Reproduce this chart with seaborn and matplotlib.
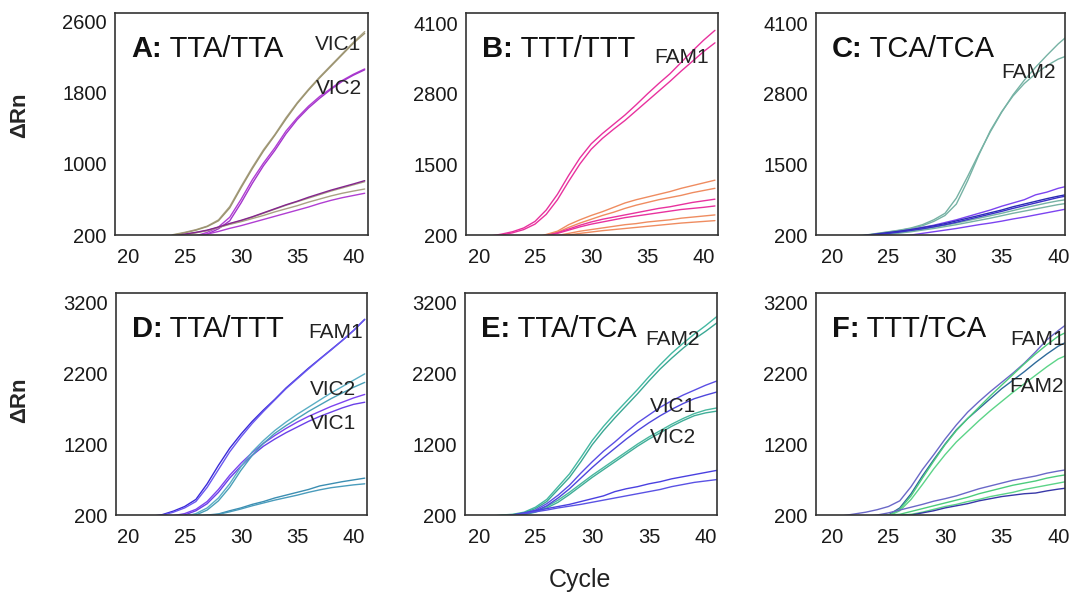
import seaborn as sns
import pandas as pd
import numpy as np
import matplotlib.pyplot as plt

sns.set_style('white')
plt.rcParams['font.family'] = ['Liberation Sans', 'DejaVu Sans']

cycles = list(range(20, 42))

# A: TTA/TTA
a_vic1_a = [100,100,100,150,205,230,260,300,370,520,745,960,1160,1330,1520,1690,1840,1980,2110,2240,2370,2490]
a_vic1_b = [100,100,100,140,200,225,255,295,360,505,730,945,1145,1320,1505,1680,1830,1970,2100,2230,2360,2470]
a_vic2_a = [100,100,100,100,130,160,190,230,290,400,600,820,1010,1180,1370,1520,1650,1760,1850,1940,2010,2070]
a_vic2_b = [100,100,100,100,120,150,180,210,270,360,560,780,980,1150,1340,1500,1630,1740,1840,1930,2000,2060]
a_low1 = [100,100,100,150,190,210,230,255,290,330,365,405,450,495,540,580,625,665,705,740,775,812]
a_low2 = [100,100,100,150,185,205,225,250,285,320,350,385,420,460,495,530,570,605,640,670,695,718]
a_low3 = [100,100,100,120,150,175,195,210,240,275,305,340,375,410,445,480,515,555,590,620,645,670]
a_low4 = [100,100,100,150,190,205,228,250,285,325,360,400,445,490,535,575,615,655,695,730,765,800]

# B: TTT/TTT
b_fam1_a = [100,180,215,260,330,450,660,950,1300,1620,1880,2070,2240,2410,2600,2800,2990,3170,3380,3590,3790,3970]
b_fam1_b = [100,160,200,240,300,400,580,850,1190,1510,1780,1980,2150,2310,2490,2670,2850,3030,3220,3400,3580,3740]
b_or1 = [100,100,100,100,120,150,210,270,390,480,560,630,710,790,850,900,950,1000,1060,1110,1160,1210]
b_or2 = [100,100,100,100,120,150,200,250,340,420,490,560,620,690,750,800,850,890,930,980,1020,1060]
b_mg1 = [100,100,100,100,120,150,190,240,310,380,440,490,530,570,610,650,690,720,760,800,830,860]
b_mg2 = [100,100,100,100,110,140,180,230,290,350,400,440,480,520,550,580,610,640,670,690,710,735]
b_or3 = [100,100,100,100,100,120,150,190,230,270,300,330,360,390,410,440,460,480,510,530,550,570]
b_or4 = [100,100,100,100,100,110,140,170,200,230,255,280,300,320,340,360,380,400,420,435,450,465]

# C: TCA/TCA
c_fam2_a = [100,130,180,200,230,260,290,330,390,480,600,880,1280,1700,2100,2460,2780,3050,3290,3510,3720,3900]
c_fam2_b = [100,120,170,195,225,255,285,320,370,450,560,770,1200,1680,2120,2470,2760,2990,3170,3320,3440,3520]
c_vio1 = [100,120,160,190,215,240,270,300,340,380,430,480,540,600,660,730,790,850,940,990,1060,1110]
c_blu1 = [100,120,165,195,220,245,270,300,335,370,410,460,510,560,610,660,720,770,820,870,915,955]
c_blu2 = [100,110,150,180,205,230,255,285,315,350,390,435,485,535,585,635,690,740,790,840,890,930]
c_tea1 = [100,100,140,170,200,225,250,280,310,345,380,420,465,510,555,600,650,700,745,790,830,860]
c_tea2 = [100,100,130,160,185,210,235,260,290,320,355,390,430,470,510,555,600,640,680,720,760,790]
c_vio2 = [100,100,100,130,150,170,185,200,230,260,290,320,355,390,420,455,495,530,570,610,650,690]

# D: TTA/TTT
d_fam1_a = [100,100,180,205,255,320,420,640,900,1140,1340,1520,1680,1830,1990,2130,2270,2400,2530,2660,2800,2960]
d_fam1_b = [100,100,170,195,240,300,390,590,840,1090,1300,1490,1660,1820,1980,2120,2260,2395,2525,2660,2800,2955]
d_vic1_a = [100,100,100,150,190,220,280,390,560,760,930,1080,1210,1320,1420,1510,1590,1660,1730,1790,1850,1900]
d_vic1_b = [100,100,100,140,170,200,260,360,520,720,890,1040,1170,1270,1360,1440,1520,1590,1650,1710,1760,1790]
d_vic2_a = [100,100,100,100,140,180,220,300,440,640,880,1090,1250,1390,1510,1620,1720,1820,1920,2010,2100,2190]
d_vic2_b = [100,100,100,100,130,160,200,270,400,590,830,1040,1210,1350,1460,1560,1660,1750,1840,1920,2000,2070]
d_low_a = [100,100,100,100,120,150,180,200,215,260,300,350,390,440,480,520,560,610,640,670,695,720]
d_low_b = [100,100,100,100,110,140,170,190,210,245,285,330,370,410,445,480,520,555,585,605,625,640]

# E: TTA/TCA
e_fam2_a = [100,180,200,210,240,310,420,600,780,1010,1250,1450,1630,1800,1970,2150,2320,2480,2620,2750,2870,3000]
e_fam2_b = [100,170,195,205,230,290,390,560,730,950,1190,1390,1570,1740,1910,2090,2260,2410,2550,2680,2790,2910]
e_vic1_a = [100,150,180,200,225,270,360,480,620,790,950,1100,1230,1370,1500,1610,1720,1810,1890,1960,2030,2090]
e_vic1_b = [100,140,170,195,215,255,330,440,570,720,870,1010,1140,1270,1390,1500,1600,1690,1770,1840,1890,1935]
e_vic2_a = [100,140,170,195,210,250,320,410,520,640,760,870,980,1090,1200,1300,1390,1480,1560,1630,1680,1710]
e_vic2_b = [100,130,165,190,205,240,300,380,490,610,730,840,950,1060,1170,1270,1360,1450,1530,1600,1640,1665]
e_low_a = [100,150,180,200,230,260,290,320,350,390,430,470,530,570,600,640,670,710,740,770,800,830]
e_low_b = [100,140,170,195,220,245,270,300,325,350,380,410,440,470,500,530,560,600,630,660,680,700]

# F: TTT/TCA
f_fam1_a = [100,190,215,240,275,320,400,600,840,1050,1270,1470,1650,1800,1940,2070,2200,2340,2500,2670,2800,2920]
f_fam1_b = [100,130,160,180,190,200,300,500,750,980,1200,1400,1560,1700,1840,1980,2100,2220,2350,2470,2580,2660]
f_fam2_a = [100,120,150,170,180,190,280,470,720,960,1190,1390,1560,1720,1880,2030,2180,2330,2470,2600,2720,2800]
f_fam2_b = [100,120,150,165,175,185,260,420,630,850,1050,1230,1380,1530,1670,1800,1930,2050,2170,2290,2400,2470]
f_low_vio = [100,130,160,180,200,230,270,310,350,395,430,470,520,570,610,650,690,720,750,790,820,845]
f_low_g1 = [100,100,130,160,185,200,210,250,290,330,370,410,450,500,540,580,620,650,680,720,750,775]
f_low_g2 = [100,100,120,150,170,190,200,210,240,280,320,350,390,420,460,490,520,560,590,620,650,680]
f_low_blu = [100,100,120,150,170,185,195,200,230,260,300,330,360,400,430,460,480,500,510,540,565,585]

tan = '#a9a184'
purple = '#b03ed2'
magenta = '#e8329e'
orange = '#ef8c60'
teal = '#76b2a4'
violet = '#7c44f0'
navy = '#2c2cb4'

panels = [
    ('A', 'TTA/TTA', [(a_vic1_a, tan), (a_vic1_b, '#9c9470'), (a_vic2_a, purple), (a_vic2_b, '#a434cc'),
                      (a_low2, tan), (a_low4, tan), (a_low1, '#84248f'), (a_low3, purple)]),
    ('B', 'TTT/TTT', [(b_or1, orange), (b_or2, orange), (b_or3, orange), (b_or4, orange),
                      (b_mg1, magenta), (b_mg2, magenta), (b_fam1_a, magenta), (b_fam1_b, magenta)]),
    ('C', 'TCA/TCA', [(c_fam2_a, teal), (c_fam2_b, teal), (c_tea1, teal), (c_tea2, teal),
                      (c_vio1, violet), (c_vio2, violet), (c_blu1, navy), (c_blu2, '#3a30c8')]),
    ('D', 'TTA/TTT', [(d_fam1_a, '#3a2ad8'), (d_fam1_b, '#6a58f0'), (d_vic1_a, violet), (d_vic1_b, '#6a40e8'),
                      (d_vic2_a, '#5aaec4'), (d_vic2_b, '#4aa0b8'), (d_low_a, '#3c8eb2'), (d_low_b, '#4a9cbc')]),
    ('E', 'TTA/TCA', [(e_fam2_a, '#44b8a2'), (e_fam2_b, '#3aa894'), (e_vic2_a, '#4ab8a0'), (e_vic2_b, '#40ae98'),
                      (e_vic1_a, '#5a4ee4'), (e_vic1_b, '#4e46dc'), (e_low_a, '#4a40e0'), (e_low_b, '#5a52e4')]),
    ('F', 'TTT/TCA', [(f_fam1_a, '#6a68c8'), (f_fam1_b, '#2e6a9a'), (f_fam2_a, '#4ccc7c'), (f_fam2_b, '#5cd488'),
                      (f_low_vio, '#6a68c8'), (f_low_g1, '#4ccc7c'), (f_low_g2, '#5cd488'), (f_low_blu, '#3838a8')]),
]

curve_labels = {
    'A': [('VIC1', 0.88, 0.856), ('VIC2', 0.885, 0.658)],
    'B': [('FAM1', 0.857, 0.80)],
    'C': [('FAM2', 0.855, 0.734)],
    'D': [('FAM1', 0.876, 0.82), ('VIC2', 0.865, 0.565), ('VIC1', 0.865, 0.41)],
    'E': [('FAM2', 0.825, 0.79), ('VIC1', 0.825, 0.49), ('VIC2', 0.825, 0.35)],
    'F': [('FAM1', 0.89, 0.79), ('FAM2', 0.885, 0.577)],
}

rects = [[0.1071, 0.6037, 0.2356, 0.3744], [0.4339, 0.6037, 0.2346, 0.3744], [0.7598, 0.6037, 0.2318, 0.3744],
         [0.1080, 0.1315, 0.2337, 0.3744], [0.4330, 0.1315, 0.2346, 0.3744], [0.7598, 0.1315, 0.2318, 0.3744]]
xlims = [(18.8, 41.3), (18.87, 41.27), (18.6, 40.6), (18.9, 41.2), (18.8, 41.0), (18.6, 40.6)]
ylims = [(200, 2700), (200, 4290), (200, 4290), (200, 3330), (200, 3330), (200, 3330)]
yticks = [[200, 1000, 1800, 2600], [200, 1500, 2800, 4100], [200, 1500, 2800, 4100],
          [200, 1200, 2200, 3200], [200, 1200, 2200, 3200], [200, 1200, 2200, 3200]]

fig = plt.figure(figsize=(10.74, 5.93), dpi=100)

for i, (letter, name, curves) in enumerate(panels):
    ax = fig.add_axes(rects[i])
    rows = []
    pal = {}
    for j, (vals, col) in enumerate(curves):
        key = f'{letter}{j}'
        pal[key] = col
        for c, v in zip(cycles, vals):
            rows.append((c, v, key))
    df = pd.DataFrame(rows, columns=['cycle', 'drn', 'curve'])
    sns.lineplot(data=df, x='cycle', y='drn', hue='curve', palette=pal, estimator=None,
                 legend=False, ax=ax, linewidth=1.0)
    ax.set_xlim(*xlims[i])
    ax.set_ylim(*ylims[i])
    ax.set_xticks([20, 25, 30, 35, 40])
    ax.set_yticks(yticks[i])
    ax.set_xlabel('')
    ax.set_ylabel('')
    ax.tick_params(axis='both', length=0, labelsize=14.5, colors='#1a1a1a')
    ax.tick_params(axis='x', pad=9)
    ax.tick_params(axis='y', pad=6)
    for sp in ax.spines.values():
        sp.set_color('#333333')
        sp.set_linewidth(1.2)
    t = ax.text(0.063, 0.775, letter + ':', transform=ax.transAxes, fontsize=21,
                fontweight='bold', va='bottom', ha='left', color='#111111')
    ax.annotate(' ' + name, xy=(1, 0), xycoords=t, fontsize=21, va='bottom', ha='left',
                color='#111111')
    for lab, fx, fy in curve_labels[letter]:
        ax.text(fx, fy, lab, transform=ax.transAxes, fontsize=15, ha='center', va='center',
                color='#222222')

fig.text(20 / 1074, 1 - 115 / 593, 'ΔRn', rotation=90, fontsize=16, fontweight='bold',
         ha='center', va='center')
fig.text(20 / 1074, 1 - 400 / 593, 'ΔRn', rotation=90, fontsize=16, fontweight='bold',
         ha='center', va='center')
fig.text(580 / 1074, 1 - 580 / 593, 'Cycle', fontsize=18, ha='center', va='center', color='#222222')

fig.savefig('out.png', dpi=100)
